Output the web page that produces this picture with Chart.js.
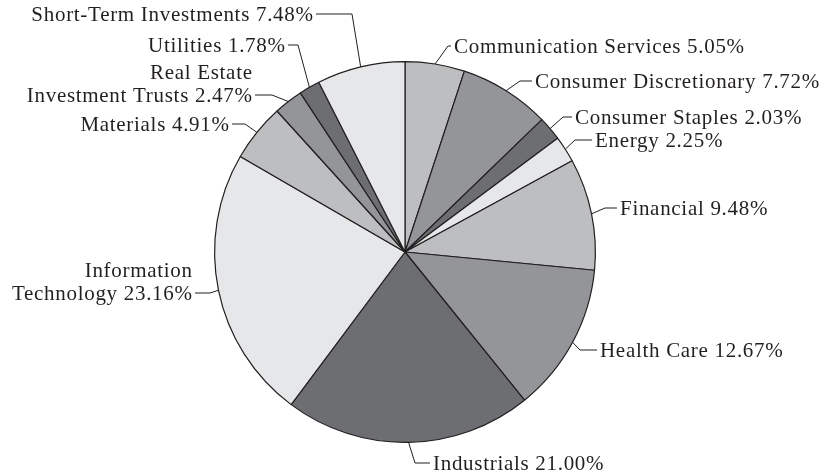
<!DOCTYPE html>
<html>
<head>
<meta charset="utf-8">
<script src="https://cdn.jsdelivr.net/npm/chart.js@4"></script>
<style>
    html, body { margin: 0; padding: 0; background: #ffffff; }
    #wrap { width: 832px; height: 475px; }
</style>
</head>
<body>
<div id="wrap"><canvas id="sector-chart" width="832" height="475"></canvas></div>
<script>
// Sector weights, clockwise from 12 o'clock
const sectors = ['Communication Services', 'Consumer Discretionary', 'Consumer Staples', 'Energy',
    'Financial', 'Health Care', 'Industrials', 'Information Technology', 'Materials',
    'Real Estate Investment Trusts', 'Utilities', 'Short-Term Investments'];
const weights = [5.05, 7.72, 2.03, 2.25, 9.48, 12.67, 21.00, 23.16, 4.91, 2.47, 1.78, 7.48];
// Label text as printed (line breaks where the picture wraps)
const label_lines = [
    ['Communication Services'], ['Consumer Discretionary'], ['Consumer Staples'], ['Energy'],
    ['Financial'], ['Health Care'], ['Industrials'], ['Information', 'Technology'], ['Materials'],
    ['Real Estate', 'Investment Trusts'], ['Utilities'], ['Short-Term Investments']];

const shades = ['#bcbec0', '#939598', '#6d6e71', '#e6e7e8'];
const ink = '#231f20';

// where each callout sits: text edge x, leader y, elbow x
const callouts = [
    {x: 454, y: 46, elbow: 448},
    {x: 535, y: 81, elbow: 520},
    {x: 575, y: 117, elbow: 563},
    {x: 595, y: 140, elbow: 575},
    {x: 620, y: 208, elbow: 605},
    {x: 600, y: 350, elbow: 580},
    {x: 433, y: 463, elbow: 415},
    {x: 192, y: 293, elbow: 210},
    {x: 229, y: 124, elbow: 245},
    {x: 252, y: 95, elbow: 272},
    {x: 285, y: 45, elbow: 298},
    {x: 313, y: 14, elbow: 352}
];

const spacing = 0.7;

const calloutPlugin = {
    id: 'callouts',
    afterDatasetsDraw(chart) {
        const ctx = chart.ctx;
        const meta = chart.getDatasetMeta(0);
        ctx.save();
        ctx.font = '21px "Liberation Serif", "DejaVu Serif", serif';
        ctx.letterSpacing = spacing + 'px';
        ctx.fillStyle = ink;
        ctx.strokeStyle = ink;
        ctx.lineWidth = 1;
        ctx.textBaseline = 'alphabetic';
        for (let i = 0; i < meta.data.length; i++) {
            const arc = meta.data[i];
            const mid = (arc.startAngle + arc.endAngle) / 2;
            const ax = arc.x + Math.cos(mid) * arc.outerRadius;
            const ay = arc.y + Math.sin(mid) * arc.outerRadius;
            const c = callouts[i];
            const onLeft = c.elbow > c.x;
            const end = onLeft ? c.x + 3 : c.x - 3;
            ctx.beginPath();
            ctx.moveTo(ax, ay);
            ctx.lineTo(c.elbow, c.y);
            ctx.lineTo(end, c.y);
            ctx.stroke();

            const lines = label_lines[i].slice();
            lines[lines.length - 1] += ' ' + weights[i].toFixed(2) + '%';
            ctx.textAlign = onLeft ? 'right' : 'left';
            for (let j = 0; j < lines.length; j++) {
                const ty = c.y + 7 - (lines.length - 1 - j) * 23;
                // trailing letter spacing would push right-aligned text off its edge
                const tx = onLeft ? c.x + spacing : c.x;
                ctx.fillText(lines[j], tx, ty);
            }
        }
        ctx.restore();
    }
};

const chart = new Chart(document.getElementById('sector-chart'), {
    type: 'pie',
    data: {
        labels: sectors,
        datasets: [{
            data: weights,
            backgroundColor: sectors.map((s, i) => shades[i % 4]),
            borderColor: ink,
            borderWidth: 1.2
        }]
    },
    options: {
        responsive: false,
        animation: false,
        events: [],
        layout: { padding: { top: 61, bottom: 32, left: 200, right: 222 } },
        plugins: {
            legend: { display: false },
            tooltip: { enabled: false }
        }
    },
    plugins: [calloutPlugin]
});
</script>
</body>
</html>
